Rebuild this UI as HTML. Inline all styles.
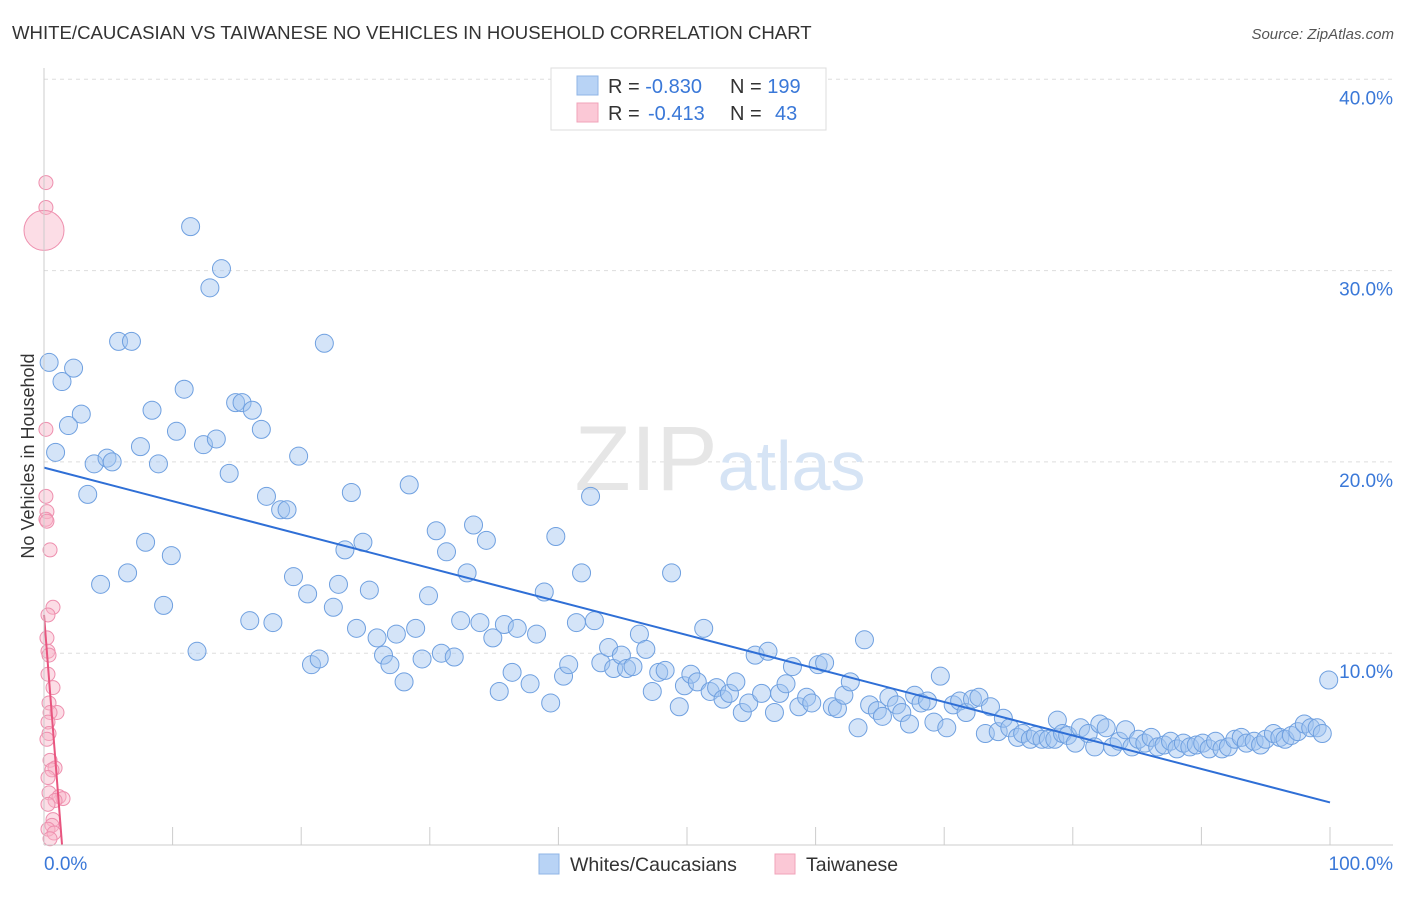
<!DOCTYPE html>
<html><head><meta charset="utf-8"><style>
body{margin:0;background:#fff;font-family:"Liberation Sans",sans-serif}
svg text{font-family:"Liberation Sans",sans-serif}
</style></head><body>
<svg id="chart" width="1406" height="892" xmlns="http://www.w3.org/2000/svg">
<text x="12" y="39" font-size="18.6" fill="#333">WHITE/CAUCASIAN VS TAIWANESE NO VEHICLES IN HOUSEHOLD CORRELATION CHART</text>
<text x="1394" y="39" font-size="15" fill="#555" text-anchor="end" font-style="italic">Source: ZipAtlas.com</text>
<g id="grid"></g>
<text x="720" y="490" font-size="92" text-anchor="middle" fill="#e6e6e6" font-family="Liberation Serif">ZIP<tspan fill="#d6e4f5" font-family="Liberation Sans" font-size="70">atlas</tspan></text>
<g id="pts"></g>
<g id="axes"></g>
<text transform="translate(34,456) rotate(-90)" font-size="18" fill="#333" text-anchor="middle">No Vehicles in Household</text>
<g>
<rect x="551" y="68" width="275" height="62" fill="#fff" stroke="#ddd"/>
<rect x="577" y="76" width="21" height="19" fill="#b8d3f5" stroke="#8fb4e6"/>
<rect x="577" y="103" width="21" height="19" fill="#fbc8d6" stroke="#f0a3ba"/>
<text x="608" y="93" font-size="20" fill="#333">R = <tspan fill="#3a78d8">-0.830</tspan><tspan x="730">N = </tspan><tspan fill="#3a78d8">199</tspan></text>
<text x="608" y="120" font-size="20" fill="#333">R = <tspan fill="#3a78d8" x="648">-0.413</tspan><tspan x="730">N = </tspan><tspan fill="#3a78d8" x="775">43</tspan></text>
</g>
<g>
<rect x="539" y="854" width="20" height="20" fill="#b8d3f5" stroke="#8fb4e6"/>
<text x="570" y="871" font-size="19.5" fill="#333">Whites/Caucasians</text>
<rect x="775" y="854" width="20" height="20" fill="#fbc8d6" stroke="#f0a3ba"/>
<text x="806" y="871" font-size="19.5" fill="#333">Taiwanese</text>
</g>
</svg>
<script>
const yTicks=[10,20,30,40];
const yTickLabels=["10.0%","20.0%","30.0%","40.0%"];
const xTickVals=[0,10,20,30,40,50,60,70,80,90,100];
const blueX=[0.4,1.4,2.3,2.9,1.9,0.9,3.4,3.9,4.9,5.3,5.8,6.8,7.5,8.4,8.9,10.3,10.9,11.4,12.9,13.8,12.4,13.4,14.4,14.9,15.4,16.2,16.9,17.3,18.4,18.9,19.8,21.8,4.4,6.5,7.9,9.9,9.3,11.9,16.0,17.8,19.4,20.5,20.8,21.4,22.5,22.9,23.4,23.9,24.8,24.3,25.3,25.9,26.4,26.9,27.4,28.0,28.4,28.9,29.4,29.9,30.5,30.9,31.3,31.9,32.4,32.9,33.4,33.9,34.4,34.9,35.4,35.8,36.4,36.8,37.8,38.3,38.9,39.4,39.8,40.4,40.8,41.4,41.8,42.5,42.8,43.3,43.9,44.3,44.9,45.3,45.8,46.3,46.8,47.3,47.8,48.3,48.8,49.4,49.8,50.3,50.8,51.3,51.8,52.3,52.8,53.3,53.8,54.3,54.8,55.3,55.8,56.3,56.8,57.2,57.7,58.2,58.7,59.3,59.7,60.2,60.7,61.3,61.7,62.2,62.7,63.3,63.8,64.2,64.8,65.2,65.7,66.3,66.7,67.3,67.7,68.2,68.7,69.2,69.7,70.2,70.7,71.2,71.7,72.2,72.7,73.2,73.6,74.2,74.6,75.1,75.7,76.1,76.7,77.1,77.6,78.1,78.6,78.8,79.2,79.6,80.2,80.6,81.2,81.7,82.1,82.6,83.1,83.6,84.1,84.6,85.1,85.6,86.1,86.6,87.1,87.6,88.1,88.6,89.1,89.6,90.1,90.6,91.1,91.6,92.1,92.6,93.1,93.5,94.1,94.6,95.0,95.6,96.1,96.5,97.0,97.5,98.0,98.5,99.0,99.4,99.9];
const blueY=[25.2,24.2,24.9,22.5,21.9,20.5,18.3,19.9,20.2,20.0,26.3,26.3,20.8,22.7,19.9,21.6,23.8,32.3,29.1,30.1,20.9,21.2,19.4,23.1,23.1,22.7,21.7,18.2,17.5,17.5,20.3,26.2,13.6,14.2,15.8,15.1,12.5,10.1,11.7,11.6,14.0,13.1,9.4,9.7,12.4,13.6,15.4,18.4,15.8,11.3,13.3,10.8,9.9,9.4,11.0,8.5,18.8,11.3,9.7,13.0,16.4,10.0,15.3,9.8,11.7,14.2,16.7,11.6,15.9,10.8,8.0,11.5,9.0,11.3,8.4,11.0,13.2,7.4,16.1,8.8,9.4,11.6,14.2,18.2,11.7,9.5,10.3,9.2,9.9,9.2,9.3,11.0,10.2,8.0,9.0,9.1,14.2,7.2,8.3,8.9,8.5,11.3,8.0,8.2,7.6,7.9,8.5,6.9,7.4,9.9,7.9,10.1,6.9,7.9,8.4,9.3,7.2,7.7,7.4,9.4,9.5,7.2,7.1,7.8,8.5,6.1,10.7,7.3,7.0,6.7,7.7,7.3,6.9,6.3,7.8,7.4,7.5,6.4,8.8,6.1,7.3,7.5,6.9,7.6,7.7,5.8,7.2,5.9,6.6,6.1,5.6,5.8,5.5,5.7,5.5,5.5,5.5,6.5,5.8,5.7,5.3,6.1,5.8,5.1,6.3,6.1,5.1,5.4,6.0,5.1,5.5,5.3,5.6,5.1,5.2,5.4,5.0,5.3,5.1,5.2,5.3,5.0,5.4,5.0,5.1,5.5,5.6,5.3,5.4,5.2,5.5,5.8,5.6,5.5,5.7,5.9,6.3,6.1,6.1,5.8,8.6];
const pinkX=[0.15,0.15,0.0,0.15,0.15,0.23,0.15,0.23,0.47,0.7,0.31,0.23,0.31,0.39,0.31,0.7,0.39,1.01,0.47,0.31,0.39,0.23,0.47,0.86,0.62,0.31,0.39,1.17,1.48,0.86,0.31,0.7,0.62,0.31,0.78,0.47];
const pinkY=[34.6,33.3,32.1,21.7,18.2,17.4,17.0,16.9,15.4,12.4,12.0,10.8,10.1,9.9,8.9,8.2,7.4,6.9,6.9,6.4,5.8,5.5,4.4,4.0,3.9,3.5,2.7,2.5,2.4,2.3,2.1,1.3,1.0,0.8,0.6,0.3];
const pinkR=[7,7,20,7,7,7,7,7,7,7,7,7,7,7,7,7,7,7,7,7,7,7,7,7,7,7,7,7,7,7,7,7,7,7,7,7];
const blueTrend=[19.7,2.2];
const pinkTrend=[12.0,0.0,1.4];
const X=v=>44+v*12.86, Y=v=>844.5-v*19.13;
const NS="http://www.w3.org/2000/svg";
function mk(t,a,p){const e=document.createElementNS(NS,t);for(const k in a)e.setAttribute(k,a[k]);p.appendChild(e);return e;}
const grid=document.getElementById('grid'),axes=document.getElementById('axes'),pts=document.getElementById('pts');
yTicks.forEach((v,i)=>{
 const l=mk('line',{x1:44,x2:1393,y1:Y(v),y2:Y(v),stroke:'#ddd','stroke-dasharray':'4,4'},grid);
 
 
 const t=mk('text',{x:1393,y:Y(v)+25,'font-size':19,fill:'#3a78d8','text-anchor':'end'},axes);
 t.textContent=yTickLabels[i];
 
 
});
const ax=mk('line',{x1:44,x2:1393,y1:845,y2:845,stroke:'#ccc'},axes);


const ay=mk('line',{x1:44,x2:44,y1:68,y2:845,stroke:'#ccc'},axes);


xTickVals.forEach(v=>{const l=mk('line',{x1:X(v),x2:X(v),y1:827,y2:845,stroke:'#ccc'},axes);
 
 });
[["0.0%",44,'start'],["100.0%",1393,'end']].forEach(a=>{const t=mk('text',{x:a[1],y:870,'font-size':19,fill:'#3a78d8','text-anchor':a[2]},axes);t.textContent=a[0];
 
 });
blueX.forEach((v,i)=>{const c=mk('circle',{cx:X(v),cy:Y(blueY[i]),r:9,fill:'rgba(160,196,240,0.45)',stroke:'#6fa0e0','stroke-width':1},pts);
 
 });
pinkX.forEach((v,i)=>{const c=mk('circle',{cx:X(v),cy:Y(pinkY[i]),r:pinkR[i],fill:'rgba(248,180,200,0.45)',stroke:'#ee8fae','stroke-width':1},pts);
 
 });
const bt=mk('line',{x1:X(0),y1:Y(blueTrend[0]),x2:X(100),y2:Y(blueTrend[1]),stroke:'#2f6fd6','stroke-width':2},pts);


const pt=mk('line',{x1:X(0),y1:Y(pinkTrend[0]),x2:X(pinkTrend[2]),y2:Y(pinkTrend[1]),stroke:'#e8557f','stroke-width':2},pts);


</script>
</body></html>
